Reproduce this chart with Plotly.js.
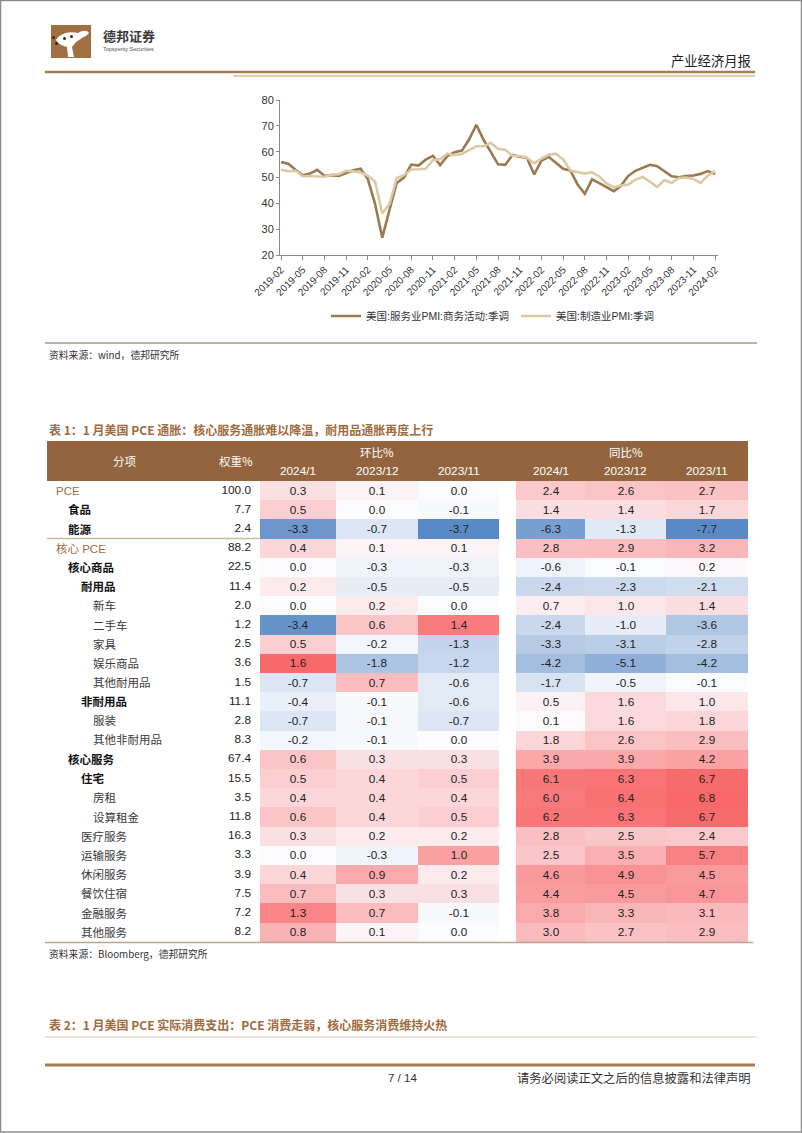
<!DOCTYPE html>
<html><head><meta charset="utf-8">
<script src="https://cdn.plot.ly/plotly-3.0.1.min.js"></script>
<style>html,body{margin:0;padding:0;background:#fff;}#page{width:802px;height:1133px;}</style>
</head><body><div id="page"></div>
<script>
// ---------------- DATA ----------------
const servicesPMI = [56.0,55.3,53.0,50.9,51.5,53.0,50.7,50.9,50.6,51.6,52.8,
  53.4,49.4,39.8,26.7,37.5,47.9,50.0,55.0,54.6,56.9,58.4,54.8,
  58.3,59.8,60.4,64.7,70.4,64.6,59.9,55.1,54.9,58.7,58.0,57.6,
  51.2,56.5,58.0,55.6,53.4,52.7,47.3,43.7,49.3,47.8,46.2,44.7,
  46.8,50.6,52.6,53.6,54.9,54.4,52.3,50.5,50.1,50.6,50.8,51.4,
  52.5,51.3];
const manufPMI = [53.0,52.4,52.6,50.5,50.6,50.4,50.3,51.1,51.3,52.6,52.4,
  51.9,50.7,48.5,36.1,39.8,49.8,50.9,53.1,53.2,53.4,56.7,57.1,
  59.2,58.6,59.1,60.5,62.1,62.1,63.4,61.1,60.7,58.4,58.3,57.7,
  55.5,57.3,58.8,59.2,57.0,52.7,52.2,51.5,52.0,50.4,47.7,46.2,
  46.9,47.3,49.2,50.2,48.4,46.3,49.0,47.9,49.8,50.0,49.4,47.9,
  50.7,52.5];
const tickLabels = ['2019-02','2019-05','2019-08','2019-11','2020-02','2020-05','2020-08','2020-11',
  '2021-02','2021-05','2021-08','2021-11','2022-02','2022-05','2022-08','2022-11',
  '2023-02','2023-05','2023-08','2023-11','2024-02'];
const seriesNames = ['美国:服务业PMI:商务活动:季调','美国:制造业PMI:季调'];

const rows = ['PCE','食品','能源','核心 PCE','核心商品','耐用品','新车','二手车','家具','娱乐商品','其他耐用品',
  '非耐用品','服装','其他非耐用品','核心服务','住宅','房租','设算租金','医疗服务','运输服务','休闲服务',
  '餐饮住宿','金融服务','其他服务'];
const weights = [100.0,7.7,2.4,88.2,22.5,11.4,2.0,1.2,2.5,3.6,1.5,11.1,2.8,8.3,67.4,15.5,3.5,11.8,16.3,3.3,3.9,7.5,7.2,8.2];
const momCols = ['2024/1','2023/12','2023/11'];
const mom_2024_1  = [0.3,0.5,-3.3,0.4,0.0,0.2,0.0,-3.4,0.5,1.6,-0.7,-0.4,-0.7,-0.2,0.6,0.5,0.4,0.6,0.3,0.0,0.4,0.7,1.3,0.8];
const mom_2023_12 = [0.1,0.0,-0.7,0.1,-0.3,-0.5,0.2,0.6,-0.2,-1.8,0.7,-0.1,-0.1,-0.1,0.3,0.4,0.4,0.4,0.2,-0.3,0.9,0.3,0.7,0.1];
const mom_2023_11 = [0.0,-0.1,-3.7,0.1,-0.3,-0.5,0.0,1.4,-1.3,-1.2,-0.6,-0.6,-0.7,0.0,0.3,0.5,0.4,0.5,0.2,1.0,0.2,0.3,-0.1,0.0];
const yoyCols = ['2024/1','2023/12','2023/11'];
const yoy_2024_1  = [2.4,1.4,-6.3,2.8,-0.6,-2.4,0.7,-2.4,-3.3,-4.2,-1.7,0.5,0.1,1.8,3.9,6.1,6.0,6.2,2.8,2.5,4.6,4.4,3.8,3.0];
const yoy_2023_12 = [2.6,1.4,-1.3,2.9,-0.1,-2.3,1.0,-1.0,-3.1,-5.1,-0.5,1.6,1.6,2.6,3.9,6.3,6.4,6.3,2.5,3.5,4.9,4.5,3.3,2.7];
const yoy_2023_11 = [2.7,1.7,-7.7,3.2,0.2,-2.1,1.4,-3.6,-2.8,-4.2,-0.1,1.0,1.8,2.9,4.2,6.7,6.8,6.7,2.4,5.7,4.5,4.7,3.1,2.9];

// ---------------- STYLE / LAYOUT CONSTANTS ----------------
const W = 802, H = 1133;
const FONT = "Arial, 'Liberation Sans', 'Noto Sans CJK SC', sans-serif";
const CJK = "'Noto Sans CJK SC', Arial, sans-serif";
const BRAND = '#A06B3E';
// row formatting: [indent level, style]
const rowFmt = [[0,'brand'],[1,'bold'],[1,'bold'],[0,'brand'],[1,'bold'],[2,'bold'],[3,'reg'],[3,'reg'],[3,'reg'],[3,'reg'],[3,'reg'],
  [2,'bold'],[3,'reg'],[3,'reg'],[1,'bold'],[2,'bold'],[3,'reg'],[3,'reg'],[2,'reg'],[2,'reg'],[2,'reg'],[2,'reg'],[2,'reg'],[2,'reg']];
const indentX = [54,66,79,91];
const rowTop = 481, rowH = 19.2;
const edgesMoM = [260,336,418,499];
const edgesYoY = [516,585,666,748];

// month categories
const months = [];
{ let y = 2019, m = 2; for (let i = 0; i < servicesPMI.length; i++) { months.push(y + '-' + String(m).padStart(2,'0')); m++; if (m > 12) { m = 1; y++; } } }

const px = x => x / W, py = y => 1 - y / H;

const traces = [];
traces.push({type:'scatter',mode:'lines',x:months,y:servicesPMI,name:seriesNames[0],
  line:{color:'#9A7A50',width:2.6},xaxis:'x',yaxis:'y',hoverinfo:'skip'});
traces.push({type:'scatter',mode:'lines',x:months,y:manufPMI,name:seriesNames[1],
  line:{color:'#DACBA6',width:2.6},xaxis:'x',yaxis:'y',hoverinfo:'skip'});

const yEdges = rows.map((r,i)=>rowTop + i*rowH).concat([rowTop + rows.length*rowH]);
const rowCenters = rows.map((r,i)=>rowTop + (i+0.5)*rowH);
const zMoM = rows.map((r,i)=>[mom_2024_1[i],mom_2023_12[i],mom_2023_11[i]]);
const zYoY = rows.map((r,i)=>[yoy_2024_1[i],yoy_2023_12[i],yoy_2023_11[i]]);
function scaleFor(z){
  const f = z.flat(); const mn = Math.min(...f), mx = Math.max(...f);
  const mid = (0 - mn) / (mx - mn);
  return {zmin:mn,zmax:mx,colorscale:[[0,'#5A8AC6'],[mid,'#FCFCFF'],[1,'#F8696B']]};
}
[[zMoM,edgesMoM],[zYoY,edgesYoY]].forEach(([z,ed])=>{
  traces.push(Object.assign({type:'heatmap',x:ed,y:yEdges,z:z,showscale:false,xaxis:'x2',yaxis:'y2',
    texttemplate:'%{z:.1f}',textfont:{family:FONT,size:11.8,color:'#222'},hoverinfo:'skip',xgap:0,ygap:0},scaleFor(z)));
});
traces.push({type:'scatter',mode:'text',x:rows.map(()=>251),y:rowCenters,text:weights.map(v=>v.toFixed(1)),
  textposition:'middle left',textfont:{family:FONT,size:11.8,color:'#222'},xaxis:'x2',yaxis:'y2',
  showlegend:false,hoverinfo:'skip',cliponaxis:false});

const ann = [];
function T(x,y,text,opt){ ann.push(Object.assign({xref:'x2',yref:'y2',x:x,y:y,text:text,showarrow:false,
  xanchor:'left',yanchor:'middle',font:{family:FONT,size:11,color:'#333'}},opt||{})); }

// header of page
T(101,35.5,'<b>德邦证券</b>',{font:{family:CJK,size:13,color:'#3a3a3a'}});
T(101,48.5,'Topsperity Securities',{font:{family:FONT,size:5.5,color:'#555'}});
T(753,60,'产业经济月报',{xanchor:'right',font:{family:CJK,size:13.3,color:'#222'}});
// chart source
T(47,355,'资料来源：wind，德邦研究所',{font:{family:CJK,size:9.8,color:'#333'}});
// table 1 title
T(47,429,'<b>表 1：1 月美国 PCE 通胀：核心服务通胀难以降温，耐用品通胀再度上行</b>',{font:{family:CJK,size:12,color:BRAND}});
// table header
T(125,461,'分项',{xanchor:'center',font:{family:CJK,size:11.5,color:'#fff'}});
T(236,461,'权重%',{xanchor:'center',font:{family:CJK,size:11.5,color:'#fff'}});
T((edgesMoM[1]+edgesMoM[2])/2,452,'环比%',{xanchor:'center',font:{family:CJK,size:11.5,color:'#fff'}});
T((edgesYoY[1]+edgesYoY[2])/2,452,'同比%',{xanchor:'center',font:{family:CJK,size:11.5,color:'#fff'}});
momCols.forEach((c,j)=>T((edgesMoM[j]+edgesMoM[j+1])/2,471,c,{xanchor:'center',font:{family:FONT,size:11.8,color:'#fff'}}));
yoyCols.forEach((c,j)=>T((edgesYoY[j]+edgesYoY[j+1])/2,471,c,{xanchor:'center',font:{family:FONT,size:11.8,color:'#fff'}}));
// row labels
rows.forEach((r,i)=>{
  const [lv,st] = rowFmt[i];
  let txt = r, col = '#3a3a3a';
  if (st==='bold') { txt = '<b>'+r+'</b>'; col = '#111'; }
  if (st==='brand') { col = BRAND; }
  T(indentX[lv],rowCenters[i],txt,{font:{family:FONT,size:11.5,color:col}});
});
T(47,954,'资料来源：Bloomberg，德邦研究所',{font:{family:CJK,size:9.8,color:'#333'}});
T(47,1024,'<b>表 2：1 月美国 PCE 实际消费支出：PCE 消费走弱，核心服务消费维持火热</b>',{font:{family:CJK,size:12,color:BRAND}});
T(402,1078,'7 / 14',{xanchor:'center',font:{family:FONT,size:11.5,color:'#333'}});
T(753,1078,'请务必阅读正文之后的信息披露和法律声明',{xanchor:'right',font:{family:CJK,size:12.3,color:'#333'}});

const shapes = [];
function S(o){ shapes.push(Object.assign({xref:'x2',yref:'y2'},o)); }
function L(x0,y0,x1,y1,color,w){ S({type:'line',x0:x0,y0:y0,x1:x1,y1:y1,line:{color:color,width:w}}); }
// page border
S({type:'rect',x0:0.5,y0:0.5,x1:W-0.5,y1:H-1,line:{color:'#8c8c8c',width:1.5}});
// logo
S({type:'rect',x0:51,y0:25,x1:91,y1:58,fillcolor:'#9E7042',line:{width:0}});
S({type:'path',path:'M 56 40 C 60 33, 70 31, 78 33 C 83 30, 87 30, 89 33 L 86 36 C 82 37, 80 40, 76 42 L 72 47 L 74 57 L 68 57 L 67 47 C 62 46, 59 44, 56 40 Z',fillcolor:'#ffffff',line:{width:0}});
S({type:'circle',x0:52,y0:36,x1:55,y1:39,fillcolor:'#3b2a1a',line:{width:0}});
S({type:'circle',x0:55,y0:42,x1:58,y1:45,fillcolor:'#3b2a1a',line:{width:0}});
S({type:'circle',x0:63,y0:37,x1:66,y1:40,fillcolor:'#3b2a1a',line:{width:0}});
S({type:'circle',x0:70,y0:35,x1:73,y1:38,fillcolor:'#3b2a1a',line:{width:0}});
// top rules
L(45,72,755,72,'#A47E58',2.5);
L(233,76,755,76,'#D1BBA2',1.5);
// chart bottom rule
L(45,343,757,343,'#A99683',1.5);
// table header band
S({type:'rect',x0:47,y0:441,x1:edgesYoY[3],y1:rowTop,fillcolor:'#93643D',line:{width:0},layer:'below'});
// separator between energy and core PCE
L(47,rowTop+3*rowH,edgesMoM[0],rowTop+3*rowH,'#CDB79E',1.5);
// table bottom
L(45,rowTop+rows.length*rowH+0.8,753,rowTop+rows.length*rowH+0.8,'#B9A48D',1.5);
// table 2 rule
L(45,1037,757,1037,'#D8CBBE',1);
// footer rule
L(45,1065,755,1065,'#A37C55',3);

const layout = {
  width:W,height:H,margin:{l:0,r:0,t:0,b:0},paper_bgcolor:'#fff',plot_bgcolor:'rgba(0,0,0,0)',
  font:{family:FONT,color:'#333'},
  xaxis:{domain:[px(280),px(718)],anchor:'y',type:'category',range:[-0.14,60.41],
    tickmode:'array',tickvals:tickLabels,ticktext:tickLabels,tickangle:-45,
    ticks:'outside',ticklen:4,tickcolor:'#8a8a8a',showline:true,linecolor:'#8a8a8a',linewidth:1,
    showgrid:false,zeroline:false,tickfont:{family:FONT,size:10,color:'#333'},fixedrange:true},
  yaxis:{domain:[py(255),py(100)],anchor:'x',range:[20,80],dtick:10,tick0:20,
    ticks:'outside',ticklen:3,tickcolor:'#8a8a8a',showline:true,linecolor:'#8a8a8a',linewidth:1,
    showgrid:false,zeroline:false,tickfont:{family:FONT,size:11,color:'#333'},fixedrange:true},
  xaxis2:{domain:[0,1],anchor:'y2',range:[0,W],visible:false,fixedrange:true},
  yaxis2:{domain:[0,1],anchor:'x2',range:[H,0],visible:false,fixedrange:true},
  showlegend:true,
  legend:{orientation:'h',x:px(326),y:py(316),xanchor:'left',yanchor:'middle',
    entrywidth:145,entrywidthmode:'pixels',font:{family:FONT,size:10.5,color:'#333'},bgcolor:'rgba(0,0,0,0)',itemwidth:30},
  annotations:ann,shapes:shapes
};
Plotly.newPlot('page',traces,layout,{staticPlot:true,displayModeBar:false});
</script>
</body></html>
